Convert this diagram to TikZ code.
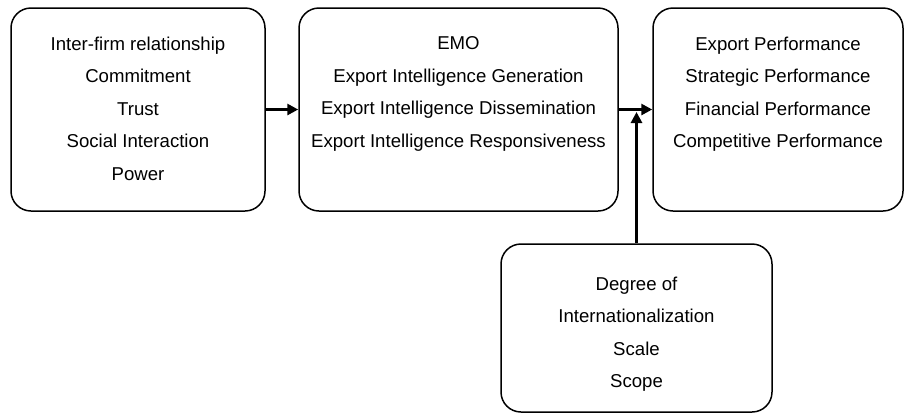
\documentclass[tikz,border=0pt]{standalone}
\usepackage{fontspec}
\setmainfont{Liberation Sans}
\usetikzlibrary{positioning,arrows.meta}

\tikzset{
  box/.style={draw,line width=0.75pt,rounded corners=10pt,inner sep=0pt},
  items/.style={align=center,inner sep=0pt,font=\fontsize{9.3}{16.3}\selectfont},
  link/.style={line width=1.5pt,-{Triangle[length=5.5pt,width=5.5pt]}}
}

\begin{document}
\begin{tikzpicture}[x=0.5pt,y=-0.5pt]

\useasboundingbox (0,0) rectangle (905,414);

% boxes
\node[box,minimum width=127pt,minimum height=101.5pt] (rel) at (138,109.5) {};
\node[box,minimum width=159.5pt,minimum height=101.5pt] (emo) at (458.5,109.5) {};
\node[box,minimum width=125pt,minimum height=101.5pt] (perf) at (778,109.5) {};
\node[box,minimum width=135.5pt,minimum height=84pt] (doi) at (636.5,328) {};

% contents
\node[items,below=14.5pt of rel.north] (reltext)
    {Inter-firm relationship\\Commitment\\Trust\\Social Interaction\\Power};
\node[items,below=14.5pt of emo.north] (emotext)
    {EMO\\Export Intelligence Generation\\Export Intelligence Dissemination\\Export Intelligence Responsiveness};
\node[items,below=14.5pt of perf.north] (perftext)
    {Export Performance\\Strategic Performance\\Financial Performance\\Competitive Performance};
\node[items,below=16.5pt of doi.north] (doitext)
    {Degree of\\Internationalization\\Scale\\Scope};

% arrows
\draw[link] (rel.east) -- (emo.west);
\draw[link] (emo.east) -- (perf.west);
\coordinate (join) at (doi.north |- emo.east);
\draw[link] (doi.north) -- ([yshift=-1.25pt]join);

\end{tikzpicture}
\end{document}
